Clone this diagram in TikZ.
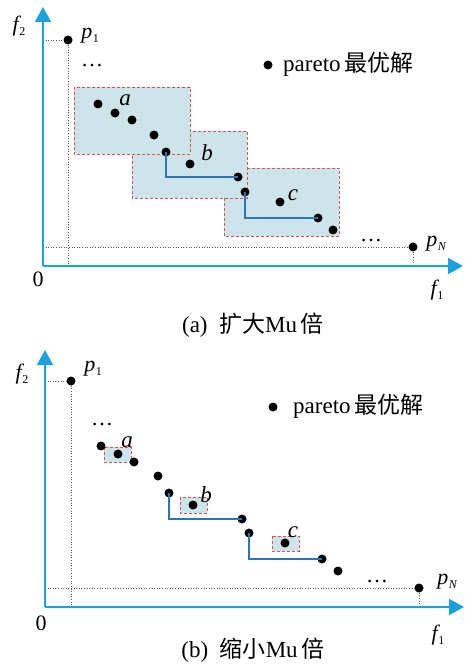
\documentclass[tikz,border=0pt]{standalone}
\usepackage{fontspec}
\setmainfont{Liberation Serif}
\newfontfamily\cjk{Noto Sans CJK SC}
\usetikzlibrary{arrows.meta,positioning}
\definecolor{axisblue}{HTML}{1DA1DC}
\definecolor{stepblue}{HTML}{2F74B5}
\definecolor{boxfill}{HTML}{CDE5EA}
\definecolor{boxred}{HTML}{D9534F}
\definecolor{guidegray}{HTML}{555555}
\tikzset{
  axisline/.style={line width=2pt, draw=axisblue, -{Triangle[length=15pt,width=16pt]}},
  pt/.style={circle, fill=black, inner sep=0pt, minimum size=9pt},
  guide/.style={dotted, draw=guidegray, line width=0.6pt},
  regionbox/.style={draw=boxred, fill=boxfill, densely dashed, line width=0.8pt},
  stepline/.style={draw=stepblue, line width=1.1pt},
  lbl/.style={font=\fontsize{23}{23}\selectfont\itshape, inner sep=0pt},
  txt/.style={font=\fontsize{22}{22}\selectfont, inner sep=0pt},
  legtxt/.style={font=\fontsize{23}{23}\selectfont, inner sep=0pt},
  captxt/.style={font=\fontsize{23}{23}\selectfont, inner sep=0pt}
}
\newcommand{\fsub}[2]{{\itshape #1}\kern0.5pt\raisebox{-0.4ex}{\fontsize{12}{12}\selectfont #2}}

\begin{document}
\begin{tikzpicture}[x=1pt, y=-1pt]
  \useasboundingbox (0,0) rectangle (464,666);

  % (a) larger Mu
  \coordinate (oa) at (43,266);
  \coordinate (ya) at (43,7);
  \coordinate (xa) at (463,266);
  \node[pt] (pa1) at (68,40) {};
  \node[pt] (paN) at (413,247) {};
  \draw[guide] (oa |- pa1) -- (pa1) -- (pa1 |- oa);
  \draw[guide] (oa |- paN) -- (paN) -- (paN |- oa);
  \draw[axisline] (oa) -- (ya);
  \draw[axisline] (oa) -- (xa);

  \draw[regionbox] (224,168) rectangle (339,236);
  \draw[regionbox] (132,131) rectangle (247,198);
  \draw[regionbox] (74,87) rectangle (190,154);

  \node[pt] (a1) at (98,104) {};
  \node[pt] (a2) at (115,113) {};
  \node[pt] (a3) at (132,120) {};
  \node[pt] (a4) at (154,135) {};
  \node[pt] (a5) at (166,152) {};
  \node[pt] (a6) at (190,164) {};
  \node[pt] (a7) at (238,177) {};
  \node[pt] (a8) at (245,192) {};
  \node[pt] (a9) at (280,202) {};
  \node[pt] (a10) at (318,218) {};
  \node[pt] (a11) at (333,230) {};
  \draw[stepline] (a5.center) |- (a7.center);
  \draw[stepline] (a8.center) |- (a10.center);

  \node[lbl] (la) at (125,100) {a};
  \node[lbl] (lb) at (207,153) {b};
  \node[lbl] (lc) at (293,195) {c};
  \node[txt] (dotsa1) at (92,66) {\dots};
  \node[txt] (dotsa2) at (371,241) {\dots};
  \node[txt] (lpa1) at (90,36) {\fsub{p}{1}};
  \node[txt] (lpaN) at (436,244) {\fsub{p}{\itshape N}};
  \node[txt] (f2a) at (19,26) {\fsub{f}{2}};
  \node[txt] (f1a) at (437,290) {\fsub{f}{1}};
  \node[txt] (zeroa) at (38,279) {0};
  \node[pt] (lega) at (268,65) {};
  \node[legtxt, anchor=west] (legtxta) at (283,64) {pareto\,{\cjk 最优解}};
  \node[captxt] (capa) at (253,325) {(a)~~{\cjk 扩大}Mu\,{\cjk 倍}};

  % (b) smaller Mu
  \coordinate (ob) at (45,607);
  \coordinate (yb) at (45,350);
  \coordinate (xb) at (464,607);
  \node[pt] (pb1) at (71,381) {};
  \node[pt] (pbN) at (419,588) {};
  \draw[guide] (ob |- pb1) -- (pb1) -- (pb1 |- ob);
  \draw[guide] (ob |- pbN) -- (pbN) -- (pbN |- ob);
  \draw[axisline] (ob) -- (yb);
  \draw[axisline] (ob) -- (xb);

  \draw[regionbox] (104,447) rectangle (131,462);
  \draw[regionbox] (180,497) rectangle (207,513);
  \draw[regionbox] (272,536) rectangle (299,551);

  \node[pt] (b1) at (101,446) {};
  \node[pt] (b2) at (118,454) {};
  \node[pt] (b3) at (134,462) {};
  \node[pt] (b4) at (158,476) {};
  \node[pt] (b5) at (169,493) {};
  \node[pt] (b6) at (193,505) {};
  \node[pt] (b7) at (242,519) {};
  \node[pt] (b8) at (249,533) {};
  \node[pt] (b9) at (285,543) {};
  \node[pt] (b10) at (322,559) {};
  \node[pt] (b11) at (338,571) {};
  \draw[stepline] (b5.center) |- (b7.center);
  \draw[stepline] (b8.center) |- (b10.center);

  \node[lbl] (lba) at (127,442) {a};
  \node[lbl] (lbb) at (206,495) {b};
  \node[lbl] (lbc) at (293,532) {c};
  \node[txt] (dotsb1) at (102,425) {\dots};
  \node[txt] (dotsb2) at (377,582) {\dots};
  \node[txt] (lpb1) at (93,369) {\fsub{p}{1}};
  \node[txt] (lpbN) at (447,582) {\fsub{p}{\itshape N}};
  \node[txt] (f2b) at (22,374) {\fsub{f}{2}};
  \node[txt] (f1b) at (438,635) {\fsub{f}{1}};
  \node[txt] (zerob) at (41,623) {0};
  \node[pt] (legb) at (273,407) {};
  \node[legtxt, anchor=west] (legtxtb) at (293,406) {pareto\,{\cjk 最优解}};
  \node[captxt] (capb) at (253,650) {(b)~~{\cjk 缩小}Mu\,{\cjk 倍}};
\end{tikzpicture}
\end{document}
